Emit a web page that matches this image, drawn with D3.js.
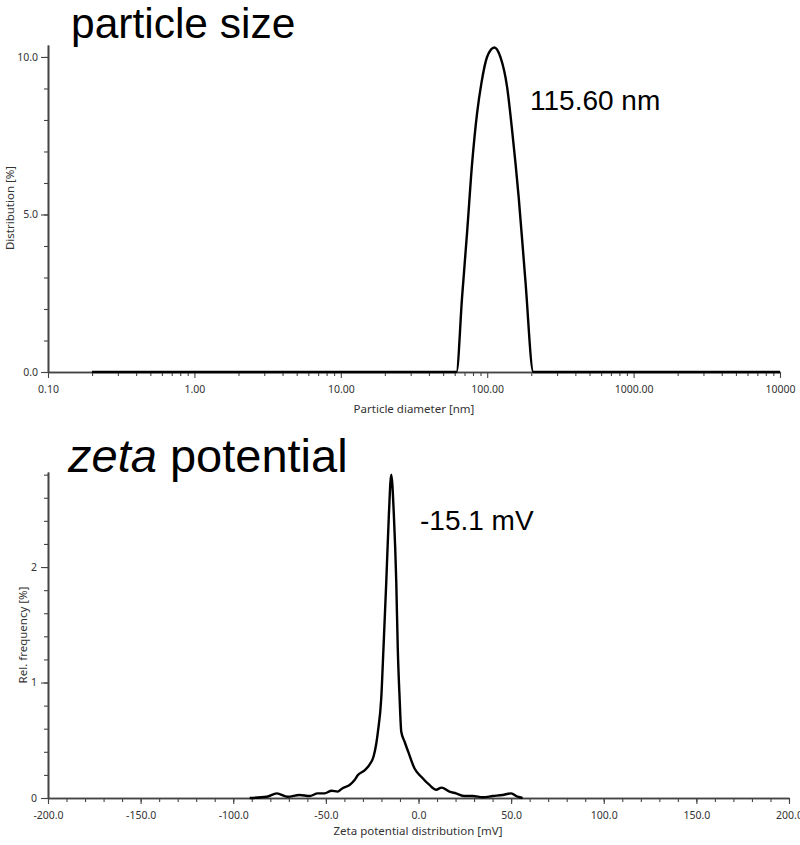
<!DOCTYPE html>
<html><head><meta charset="utf-8">
<script src="https://cdn.jsdelivr.net/npm/d3@7"></script>
<style>
body{margin:0;background:#fff;}
svg{display:block;}
.tick text{font-family:"Noto Sans","Open Sans",sans-serif;font-size:10.5px;fill:#333;}
</style></head>
<body>
<svg id="c" width="800" height="845"></svg>
<script>
// ---- Data: particle size distribution ----
const sizeDiameter = [0.2, 61.7, 67.4, 72.9, 78.9, 85.3, 91.3, 99.8, 112, 123, 136.7, 147.9, 164, 182.2, 206.6, 10000];
const sizeDistribution = [0, 0, 2.39, 4.44, 6.63, 8.22, 9.17, 10.0, 10.3, 10.0, 9.05, 7.68, 5.56, 2.92, 0, 0];
const sizeTicks = [0.1, 1, 10, 100, 1000, 10000];
const sizeTickLabels = ["0.10", "1.00", "10.00", "100.00", "1000.00", "10000"];
const sizeYTicks = [0, 5, 10];
const sizeYTickLabels = ["0.0", "5.0", "10.0"];

// ---- Data: zeta potential distribution ----
const zetaMV = [-91.1, -81.9, -76.5, -70.6, -64.2, -58.8, -54.4, -50.7, -46.9, -43.7, -41.0, -37.2, -34.5, -32.7, -29.1, -26.4, -24.3, -22.8, -21.9, -20.1, -18.9, -17.4, -16.0, -14.7, -13.3, -12.0, -11.2, -10.2, -9.3, -7.5, -4.9, -2.2, 1.5, 5.9, 9.5, 12.5, 16.7, 20.3, 24.8, 29.3, 34.7, 40.1, 45.4, 50.0, 53.5, 56.2];
const zetaFreq = [0, 0.011, 0.04, 0.011, 0.026, 0.017, 0.04, 0.04, 0.063, 0.055, 0.085, 0.113, 0.156, 0.199, 0.24, 0.29, 0.357, 0.47, 0.574, 0.866, 1.30, 1.87, 2.45, 2.80, 2.45, 1.87, 1.30, 0.866, 0.574, 0.487, 0.372, 0.257, 0.184, 0.113, 0.072, 0.09, 0.055, 0.04, 0.017, 0.017, 0.006, 0.017, 0.026, 0.04, 0.011, 0];
const zetaTicks = [-200, -150, -100, -50, 0, 50, 100, 150, 200];
const zetaTickLabels = ["-200.0", "-150.0", "-100.0", "-50.0", "0.0", "50.0", "100.0", "150.0", "200.0"];
const zetaYTicks = [0, 1, 2];
const zetaYTickLabels = ["0", "1", "2"];

const svg = d3.select("#c");
const axisColor = "#444";
const uiFont = '"Noto Sans","Open Sans",sans-serif';
const titleFont = '"Liberation Sans",Arial,sans-serif';

function styleAxis(g){
  g.select(".domain").attr("stroke", axisColor).attr("stroke-width", 1.6);
  g.selectAll(".tick line").attr("stroke", axisColor).attr("stroke-width", 1.1);
}

// ============ Chart 1: particle size ============
const x1 = d3.scaleLog().domain([0.1, 10000]).range([48, 780]);
const y1 = d3.scaleLinear().domain([0, 10.38]).range([372, 45]);

const minor1 = [];
for (let e = -1; e < 4; e++) for (let m = 2; m <= 9; m++) minor1.push(m * Math.pow(10, e));
svg.append("g").attr("transform", "translate(0,372)")
  .call(d3.axisBottom(x1).tickValues(minor1).tickFormat("").tickSize(4).tickSizeOuter(0))
  .call(styleAxis);
svg.append("g").attr("transform", "translate(0,372)")
  .call(d3.axisBottom(x1).tickValues(sizeTicks).tickFormat((d, i) => sizeTickLabels[i]).tickSize(6).tickSizeOuter(0).tickPadding(8))
  .call(styleAxis);

svg.append("g").attr("transform", "translate(48,0)")
  .call(d3.axisLeft(y1).tickValues(d3.range(0, 11, 1)).tickFormat("").tickSize(4).tickSizeOuter(0))
  .call(styleAxis);
svg.append("g").attr("transform", "translate(48,0)")
  .call(d3.axisLeft(y1).tickValues(sizeYTicks).tickFormat((d, i) => sizeYTickLabels[i]).tickSize(7).tickSizeOuter(0).tickPadding(3))
  .call(styleAxis);

const sizePts = sizeDiameter.map((d, i) => [d, sizeDistribution[i]]);
svg.append("path").datum(sizePts)
  .attr("fill", "none").attr("stroke", "#000").attr("stroke-width", 2.4).attr("stroke-linejoin", "round")
  .attr("d", d3.line().x(d => x1(d[0])).y(d => y1(d[1])).curve(d3.curveMonotoneX));

svg.append("text").attr("x", 414).attr("y", 413).attr("text-anchor", "middle")
  .attr("font-family", uiFont).attr("font-size", 11.5).attr("fill", "#333").text("Particle diameter [nm]");
svg.append("text").attr("transform", "translate(14,208) rotate(-90)").attr("text-anchor", "middle")
  .attr("font-family", uiFont).attr("font-size", 11.5).attr("fill", "#333").text("Distribution [%]");

svg.append("text").attr("x", 71).attr("y", 38).attr("font-family", titleFont).attr("font-size", 42.5).attr("fill", "#000").text("particle size");
svg.append("text").attr("x", 530).attr("y", 110).attr("font-family", titleFont).attr("font-size", 28).attr("fill", "#000").text("115.60 nm");

// ============ Chart 2: zeta potential ============
const x2 = d3.scaleLinear().domain([-200, 200]).range([48, 789]);
const y2 = d3.scaleLinear().domain([0, 2.823]).range([798, 472]);

svg.append("g").attr("transform", "translate(0,798)")
  .call(d3.axisBottom(x2).tickValues(d3.range(-200, 201, 10)).tickFormat("").tickSize(4).tickSizeOuter(0))
  .call(styleAxis);
svg.append("g").attr("transform", "translate(0,798)")
  .call(d3.axisBottom(x2).tickValues(zetaTicks).tickFormat((d, i) => zetaTickLabels[i]).tickSize(6).tickSizeOuter(0).tickPadding(8))
  .call(styleAxis);

svg.append("g").attr("transform", "translate(48,0)")
  .call(d3.axisLeft(y2).tickValues(d3.range(0, 2.81, 0.2)).tickFormat("").tickSize(4).tickSizeOuter(0))
  .call(styleAxis);
svg.append("g").attr("transform", "translate(48,0)")
  .call(d3.axisLeft(y2).tickValues(zetaYTicks).tickFormat((d, i) => zetaYTickLabels[i]).tickSize(7).tickSizeOuter(0).tickPadding(4))
  .call(styleAxis);

const zetaPts = zetaMV.map((d, i) => [d, zetaFreq[i]]);
svg.append("path").datum(zetaPts)
  .attr("fill", "none").attr("stroke", "#000").attr("stroke-width", 2.4).attr("stroke-linejoin", "round")
  .attr("d", d3.line().x(d => x2(d[0])).y(d => y2(d[1])).curve(d3.curveMonotoneX));

svg.append("text").attr("x", 418).attr("y", 835).attr("text-anchor", "middle")
  .attr("font-family", uiFont).attr("font-size", 11.5).attr("fill", "#333").text("Zeta potential distribution [mV]");
svg.append("text").attr("transform", "translate(27,635) rotate(-90)").attr("text-anchor", "middle")
  .attr("font-family", uiFont).attr("font-size", 11.5).attr("fill", "#333").text("Rel. frequency [%]");

const t2 = svg.append("text").attr("x", 68).attr("y", 472).attr("font-family", titleFont).attr("font-size", 47).attr("fill", "#000");
t2.append("tspan").attr("font-style", "italic").text("zeta");
t2.append("tspan").text(" potential");
svg.append("text").attr("x", 420).attr("y", 530).attr("font-family", titleFont).attr("font-size", 28).attr("fill", "#000").text("-15.1 mV");
</script>
</body></html>
